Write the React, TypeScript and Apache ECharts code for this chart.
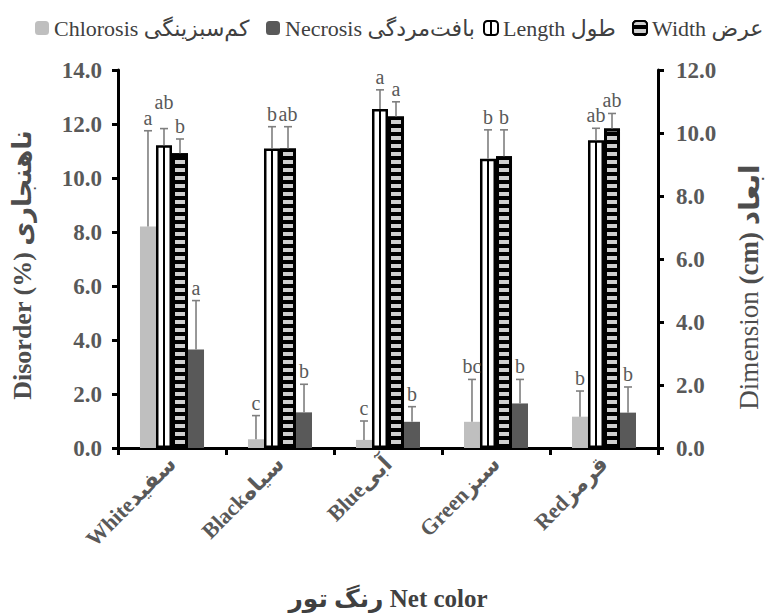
import React, { useEffect, useRef } from "react";
import * as echarts from "echarts";

const categories = ["Whiteسفید", "Blackسیاه", "Blueآبی", "Greenسبز", "Redقرمز"];

const chlorosis = [8.2, 0.32, 0.3, 0.97, 1.16];
const chlorosisErr = [3.55, 0.88, 0.7, 1.57, 0.95];
const chlorosisLetters = ["a", "c", "c", "bc", "b"];

const lengthVals = [9.61, 9.51, 10.76, 9.18, 9.77];
const lengthErr = [0.53, 0.69, 0.61, 0.92, 0.38];
const lengthLetters = ["ab", "b", "a", "b", "ab"];

const widthVals = [9.36, 9.51, 10.52, 9.26, 10.14];
const widthErr = [0.45, 0.69, 0.47, 0.84, 0.48];
const widthLetters = ["b", "ab", "a", "b", "ab"];

const necrosis = [3.65, 1.32, 0.97, 1.65, 1.31];
const necrosisErr = [1.81, 1.04, 0.56, 0.89, 0.95];
const necrosisLetters = ["a", "b", "b", "b", "b"];

const leftTicks = { min: 0, max: 14, interval: 2 };
const rightTicks = { min: 0, max: 12, interval: 2 };

const NAME_CHL = "Chlorosis کم‌سبزینگی";
const NAME_NEC = "Necrosis بافت‌مردگی";
const NAME_LEN = "Length طول";
const NAME_WID = "Width عرض";
const legendOrder = [NAME_CHL, NAME_NEC, NAME_LEN, NAME_WID];
const legendLefts = [30, 261, 478, 627];

const FONT = "'Liberation Serif', 'Times New Roman', 'DejaVu Sans', serif";
const CAT_GAP = 0.407;
// extra lift (px) for a crowded letter label: key = "slot-category"
const LETTER_LIFT: Record<string, number> = { "1-0": 14 };

function makeErr(slot: number, yAxisIndex: number, means: number[], errs: number[], letters: string[]) {
  return {
    type: "custom",
    yAxisIndex,
    silent: true,
    z: 10,
    data: means.map((m, i) => [i, m, m + errs[i]]),
    encode: { x: 0, y: [1, 2] },
    renderItem: (params: any, api: any) => {
      const i = api.value(0);
      const m = api.value(1);
      const t = api.value(2);
      const base = api.coord([i, m]);
      const top = api.coord([i, t]);
      const band = api.size([1, 0])[0];
      const bw = (band * (1 - CAT_GAP)) / 4;
      const x = base[0] + (slot - 1.5) * bw;
      const stroke = "#7f7f7f";
      const lift = LETTER_LIFT[`${slot}-${params.dataIndex}`] || 0;
      return {
        type: "group",
        children: [
          { type: "line", shape: { x1: x, y1: base[1], x2: x, y2: top[1] }, style: { stroke, lineWidth: 1.6 } },
          { type: "line", shape: { x1: x - 4, y1: top[1], x2: x + 4, y2: top[1] }, style: { stroke, lineWidth: 1.6 } },
          {
            type: "text",
            x,
            y: top[1] - 3 - lift,
            style: {
              text: letters[params.dataIndex],
              align: "center",
              verticalAlign: "bottom",
              font: `20px ${FONT}`,
              fill: "#595959",
            },
          },
        ],
      };
    },
  };
}

export default function App() {
  const ref = useRef<HTMLDivElement>(null);
  useEffect(() => {
    document.body.style.margin = "0";
    const chart = echarts.init(ref.current as HTMLDivElement, null, { renderer: "svg" });
    const axisLabelStyle = {
      color: "#595959",
      fontWeight: "bold",
      fontSize: 23,
      fontFamily: FONT,
    };
    chart.setOption({
      animation: false,
      backgroundColor: "#ffffff",
      legend: legendOrder.map((name, k) => ({
        left: legendLefts[k],
        top: 12,
        itemWidth: 14,
        itemHeight: 14,
        data: [name],
        textStyle: { color: "#404040", fontSize: 22, fontFamily: FONT },
      })),
      grid: { left: 118, right: 108, top: 70, bottom: 167 },
      xAxis: {
        type: "category",
        data: categories,
        axisLine: { lineStyle: { color: "#000", width: 3 } },
        axisTick: { show: true, length: 7, lineStyle: { color: "#000", width: 3 } },
        axisLabel: { ...axisLabelStyle, fontSize: 22, rotate: 45, interval: 0, margin: 12 },
      },
      yAxis: [
        {
          type: "value",
          ...leftTicks,
          position: "left",
          axisLine: { show: true, lineStyle: { color: "#000", width: 3 } },
          axisTick: { show: true, length: 6, lineStyle: { color: "#000", width: 3 } },
          splitLine: { show: false },
          axisLabel: { ...axisLabelStyle, margin: 16, formatter: (v: number) => v.toFixed(1) },
        },
        {
          type: "value",
          ...rightTicks,
          position: "right",
          axisLine: { show: true, lineStyle: { color: "#000", width: 3 } },
          axisTick: { show: true, length: 6, lineStyle: { color: "#000", width: 3 } },
          splitLine: { show: false },
          axisLabel: { ...axisLabelStyle, margin: 18, formatter: (v: number) => v.toFixed(1) },
        },
      ],
      graphic: [
        {
          type: "text",
          x: 22,
          y: 265,
          rotation: Math.PI / 2,
          style: {
            text: "Disorder (%) ناهنجاری",
            font: `bold 26px ${FONT}`,
            fill: "#4d4d4d",
            align: "center",
            verticalAlign: "middle",
          },
        },
        {
          type: "text",
          x: 749,
          y: 287,
          rotation: Math.PI / 2,
          style: {
            text: "{r|Dimension }{b|(cm) }{p|ابعاد}",
            rich: {
              r: { font: `27px ${FONT}`, fill: "#4d4d4d" },
              b: { font: `bold 27px ${FONT}`, fill: "#4d4d4d" },
              p: { font: `bold 28px ${FONT}`, fill: "#4d4d4d" },
            },
            align: "center",
            verticalAlign: "middle",
          },
        },
        {
          type: "text",
          x: 388,
          y: 598,
          style: {
            text: "رنگ تور Net color",
            font: `bold 25px ${FONT}`,
            fill: "#404040",
            align: "center",
            verticalAlign: "middle",
          },
        },
      ],
      series: [
        {
          name: NAME_CHL,
          type: "bar",
          yAxisIndex: 0,
          barGap: 0,
          barCategoryGap: CAT_GAP * 100 + "%",
          data: chlorosis,
          itemStyle: { color: "#bfbfbf" },
        },
        {
          name: NAME_LEN,
          type: "bar",
          yAxisIndex: 1,
          barGap: 0,
          barCategoryGap: CAT_GAP * 100 + "%",
          data: lengthVals,
          itemStyle: {
            color: {
              type: "linear",
              x: 0,
              y: 0,
              x2: 1,
              y2: 0,
              colorStops: [
                { offset: 0, color: "#ffffff" },
                { offset: 0.4, color: "#ffffff" },
                { offset: 0.4, color: "#000000" },
                { offset: 0.6, color: "#000000" },
                { offset: 0.6, color: "#ffffff" },
                { offset: 1, color: "#ffffff" },
              ],
            },
            borderColor: "#000",
            borderWidth: 2.5,
          },
        },
        {
          name: NAME_WID,
          type: "bar",
          yAxisIndex: 1,
          barGap: 0,
          barCategoryGap: CAT_GAP * 100 + "%",
          data: widthVals,
          itemStyle: {
            color: "#000000",
            borderColor: "#000",
            borderWidth: 3,
            decal: {
              symbol: "rect",
              symbolSize: 1,
              color: "#d0d0d0",
              dashArrayX: [1, 0],
              dashArrayY: [4, 4],
              rotation: 0,
            },
          },
        },
        {
          name: NAME_NEC,
          type: "bar",
          yAxisIndex: 0,
          barGap: 0,
          barCategoryGap: CAT_GAP * 100 + "%",
          data: necrosis,
          itemStyle: { color: "#595959" },
        },
        makeErr(0, 0, chlorosis, chlorosisErr, chlorosisLetters),
        makeErr(1, 1, lengthVals, lengthErr, lengthLetters),
        makeErr(2, 1, widthVals, widthErr, widthLetters),
        makeErr(3, 0, necrosis, necrosisErr, necrosisLetters),
      ],
    });
    return () => chart.dispose();
  }, []);
  return <div ref={ref} style={{ width: 766, height: 615 }} />;
}
